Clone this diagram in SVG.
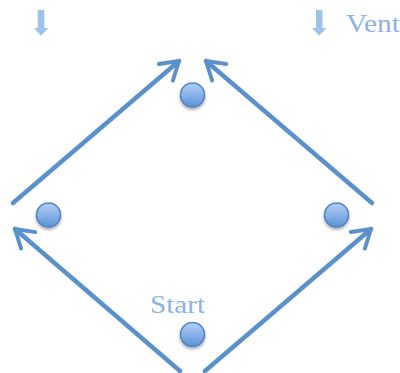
<svg xmlns="http://www.w3.org/2000/svg" width="400" height="373" viewBox="0 0 400 373">
  <style>
    .edge { fill: none; stroke: #5b91cb; stroke-width: 4.5; stroke-linecap: round; }
    .label { font-family: "Liberation Serif", "DejaVu Serif", serif; font-size: 26px; fill: #8db3e2; }
    .dot { fill: url(#dotFill); stroke: #4f84c4; stroke-width: 1.5; filter: url(#dotShadow); }
    .drop { fill: #9dc3e9; }
  </style>
  <defs>
    <linearGradient id="dotFill" x1="0" y1="0" x2="0" y2="1">
      <stop offset="0" stop-color="#b3d0f5"/>
      <stop offset="1" stop-color="#5d92d8"/>
    </linearGradient>
    <filter id="dotShadow" x="-50%" y="-50%" width="200%" height="200%">
      <feGaussianBlur in="SourceAlpha" stdDeviation="1.5"/>
      <feOffset dx="0" dy="2" result="b"/>
      <feComponentTransfer><feFuncA type="linear" slope="0.35"/></feComponentTransfer>
      <feMerge><feMergeNode/><feMergeNode in="SourceGraphic"/></feMerge>
    </filter>
    <marker id="chevron" viewBox="0 0 12 12" refX="10" refY="6" markerWidth="5.8" markerHeight="5.8" orient="auto" markerUnits="strokeWidth">
      <path d="M2,1 L10,6 L2,11" fill="none" stroke="#5b91cb" stroke-width="1.8" stroke-linecap="round" stroke-linejoin="round"/>
    </marker>
  </defs>

  <!-- down markers along the top -->
  <path class="drop" d="M37.7,10 H44.3 V28 H48.3 L41,35.7 L34,28 H37.7 Z"/>
  <path class="drop" d="M316,10 H322.5 V28 H326.5 L319.2,35.5 L312,28 H316 Z"/>
  <text class="label" x="346" y="32" textLength="54" lengthAdjust="spacingAndGlyphs">Vent</text>

  <g id="connectors">
    <line class="edge" x1="180" y1="371" x2="15" y2="229" marker-end="url(#chevron)"/>
    <line class="edge" x1="205" y1="371" x2="371" y2="229" marker-end="url(#chevron)"/>
    <line class="edge" x1="13" y1="203" x2="179" y2="61" marker-end="url(#chevron)"/>
    <line class="edge" x1="372" y1="203" x2="206" y2="61" marker-end="url(#chevron)"/>
  </g>

  <g id="node-top"><circle class="dot" cx="192.5" cy="95" r="12"/></g>
  <g id="node-left"><circle class="dot" cx="48.5" cy="215" r="12"/></g>
  <g id="node-right"><circle class="dot" cx="336.5" cy="215" r="12"/></g>
  <g id="node-start">
    <circle class="dot" cx="192.5" cy="334.5" r="12"/>
    <text class="label" x="150" y="313" textLength="55" lengthAdjust="spacingAndGlyphs">Start</text>
  </g>
</svg>
